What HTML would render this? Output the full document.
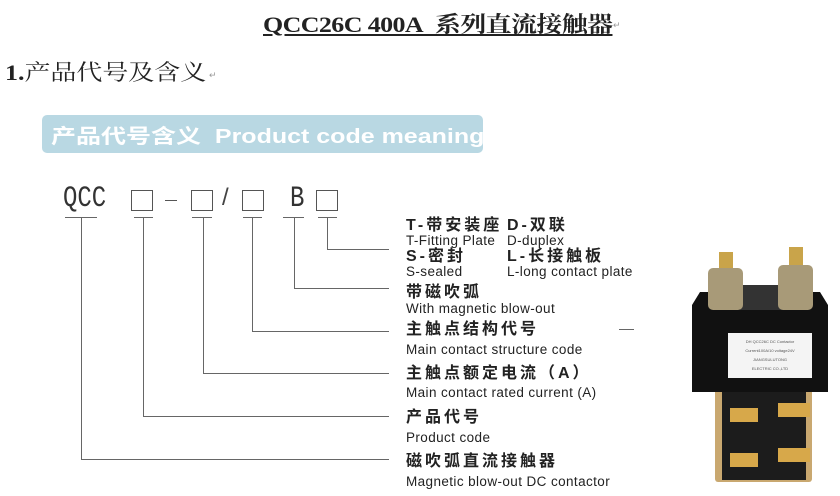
<!DOCTYPE html>
<html><head><meta charset="utf-8"><style>
body{margin:0;width:840px;height:496px;background:#fff;position:relative;overflow:hidden;font-family:"Liberation Sans","Noto Sans CJK SC",sans-serif;color:#222}
.a{position:absolute;white-space:nowrap}
.cn{font-size:16px;font-weight:bold;letter-spacing:3px;line-height:16px}
.en{font-size:13.5px;letter-spacing:0.4px;line-height:13px;color:#222}
.box{position:absolute;width:22px;height:21px;border:1px solid #555;box-sizing:border-box}
.mono{font-family:'Liberation Mono',monospace;font-size:30px;transform:scaleX(0.8);transform-origin:left;color:#333;line-height:30px}
</style></head><body>
<div class="a" style="left:263px;top:8px;font-family:'Liberation Serif','Noto Serif CJK SC',serif;font-size:22px;font-weight:bold;text-decoration:underline;letter-spacing:-0.5px;transform:scaleX(1.18);transform-origin:left">QCC26C 400A&nbsp; 系列直流接触器</div>
<div class="a" style="left:613px;top:20px;font-size:9px;color:#999">↵</div>
<div class="a" style="left:5px;top:56px;font-family:'Liberation Serif','Noto Serif CJK SC',serif;font-size:22px;font-weight:bold;transform:scaleX(1.18);transform-origin:left">1.<span style="font-weight:normal">产品代号及含义</span></div>
<div class="a" style="left:209px;top:70px;font-size:9px;color:#999">↵</div>
<div class="a" style="left:42px;top:115px;width:441px;height:38px;background:#b9d8e3;border-radius:5px"></div>
<div class="a" style="left:51px;top:120px;font-size:20px;font-weight:bold;color:#fff;transform:scaleX(1.25);transform-origin:left">产品代号含义&nbsp; Product code meaning</div>

<div class="a mono" style="left:63px;top:184px">QCC</div>
<div class="box" style="left:131px;top:190px"></div>
<div class="a" style="left:165px;top:200px;width:12px;height:1px;background:#555"></div>
<div class="box" style="left:191px;top:190px"></div>
<div class="a" style="left:222px;top:184px;font-size:24px;color:#444">/</div>
<div class="box" style="left:242px;top:190px"></div>
<div class="a mono" style="left:290px;top:184px">B</div>
<div class="box" style="left:316px;top:190px"></div>

<svg class="a" style="left:0;top:0" width="840" height="496">
<g stroke="#666" stroke-width="1" fill="none">
<path d="M65 217.5H97M134 217.5H153M192 217.5H212M243 217.5H262M283 217.5H304M318 217.5H337"/>
<path d="M81.5 217V459.5H389"/>
<path d="M143.5 217V416.5H389"/>
<path d="M203.5 217V373.5H389"/>
<path d="M252.5 217V331.5H389"/>
<path d="M294.5 217V288.5H389"/>
<path d="M327.5 217V249.5H389"/>
<path d="M619 329.5H634"/>
</g>
</svg>

<div class="a cn" style="left:406px;top:218px">T-带安装座</div>
<div class="a cn" style="left:507px;top:218px">D-双联</div>
<div class="a en" style="left:406px;top:234px">T-Fitting Plate</div>
<div class="a en" style="left:507px;top:234px">D-duplex</div>
<div class="a cn" style="left:406px;top:249px">S-密封</div>
<div class="a cn" style="left:507px;top:249px">L-长接触板</div>
<div class="a en" style="left:406px;top:265px">S-sealed</div>
<div class="a en" style="left:507px;top:265px">L-long contact plate</div>
<div class="a cn" style="left:406px;top:285px">带磁吹弧</div>
<div class="a en" style="left:406px;top:302px">With magnetic blow-out</div>
<div class="a cn" style="left:406px;top:322px">主触点结构代号</div>
<div class="a en" style="left:406px;top:343px">Main contact structure code</div>
<div class="a cn" style="left:406px;top:366px">主触点额定电流（A）</div>
<div class="a en" style="left:406px;top:386px">Main contact rated current (A)</div>
<div class="a cn" style="left:406px;top:410px">产品代号</div>
<div class="a en" style="left:406px;top:431px">Product code</div>
<div class="a cn" style="left:406px;top:454px">磁吹弧直流接触器</div>
<div class="a en" style="left:406px;top:475px">Magnetic blow-out DC contactor</div>

<svg class="a" style="left:660px;top:230px" width="180" height="266" viewBox="0 0 180 266">
<rect x="55" y="155" width="97" height="97" rx="3" fill="#c9a870"/>
<rect x="62" y="158" width="84" height="92" fill="#1c1c1c"/>
<path d="M32 75 L40 62 H160 L168 75 V162 H32 Z" fill="#111"/>
<rect x="80" y="55" width="50" height="25" fill="#333"/>
<rect x="68" y="103" width="84" height="45" fill="#f4f4f4"/>
<text x="110" y="113" font-size="4" text-anchor="middle" fill="#555" font-family="Liberation Sans">DH QCC26C DC Contactor</text>
<text x="110" y="122" font-size="4" text-anchor="middle" fill="#555" font-family="Liberation Sans">Current100A/10 voltage24V</text>
<text x="110" y="131" font-size="4" text-anchor="middle" fill="#555" font-family="Liberation Sans">JIANGSULUTONG</text>
<text x="110" y="140" font-size="4" text-anchor="middle" fill="#555" font-family="Liberation Sans">ELECTRIC CO.,LTD</text>
<rect x="59" y="22" width="14" height="20" fill="#c9a44a"/>
<rect x="129" y="17" width="14" height="22" fill="#c9a44a"/>
<rect x="48" y="38" width="35" height="42" rx="5" fill="#a89a78"/>
<rect x="118" y="35" width="35" height="45" rx="5" fill="#a89a78"/>
<rect x="70" y="178" width="28" height="14" fill="#d7a84a"/>
<rect x="70" y="223" width="28" height="14" fill="#d7a84a"/>
<rect x="118" y="173" width="32" height="14" fill="#d7a84a"/>
<rect x="118" y="218" width="32" height="14" fill="#d7a84a"/>
</svg>
</body></html>
